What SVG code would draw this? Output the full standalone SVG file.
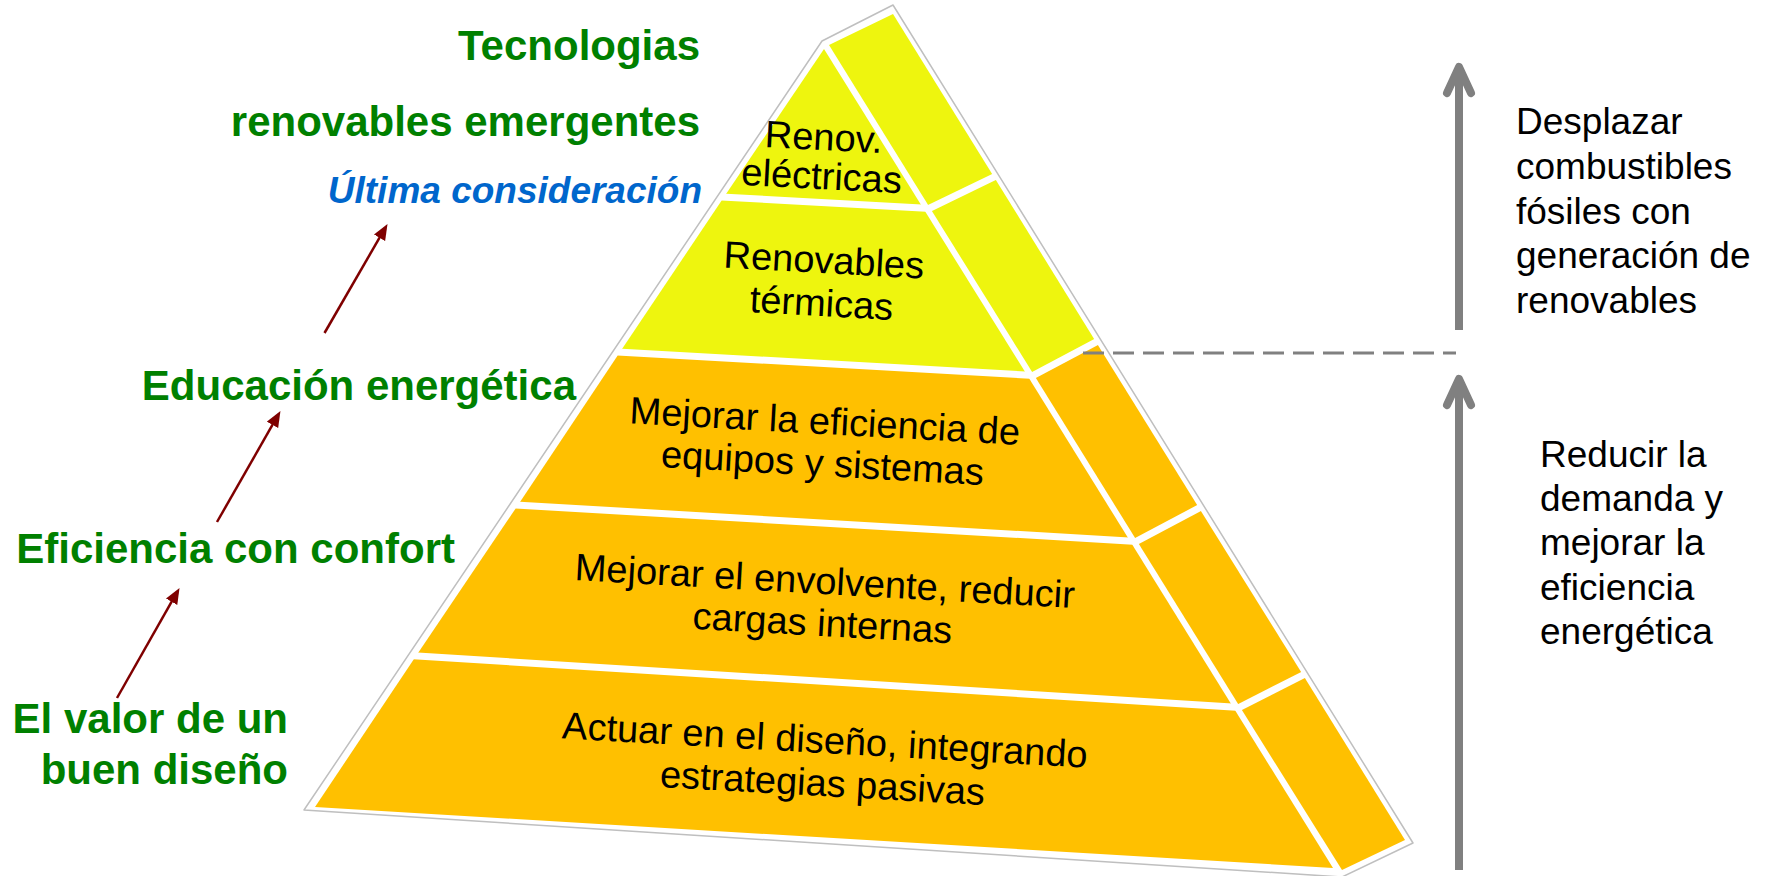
<svg xmlns="http://www.w3.org/2000/svg" width="1771" height="876" viewBox="0 0 1771 876">
  <defs>
    <style>
      .green { font-family: "Liberation Sans", Arial, sans-serif; font-weight: bold; font-size: 42px; fill: #008000; }
      .blue { font-family: "Liberation Sans", Arial, sans-serif; font-weight: bold; font-style: italic; font-size: 37px; fill: #0066CC; }
      .tier { font-family: "Liberation Sans", Arial, sans-serif; font-size: 38px; fill: #000; text-anchor: middle; }
      .note { font-family: "Liberation Sans", Arial, sans-serif; font-size: 37px; fill: #000; }
      .yellow { fill: #EEF50E; }
      .orange { fill: #FFC000; }
      .sep { stroke: #FFFFFF; stroke-width: 7; fill: none; }
      .red-arrow { stroke: #7F0000; stroke-width: 2.5; fill: none; marker-end: url(#redhead); }
      .gray-arrow { stroke: #808080; stroke-width: 8; fill: none; stroke-linejoin: round; }
    </style>
    <marker id="redhead" markerUnits="userSpaceOnUse" markerWidth="18" markerHeight="14" refX="3" refY="7" orient="auto">
      <path d="M0,0.5 L16,7 L0,13.5 z" fill="#7F0000"/>
    </marker>
  </defs>

  <rect x="0" y="0" width="1771" height="876" fill="#FFFFFF"/>

  <!-- pyramid outline -->
  <g id="pyramid-outline">
    <polygon points="822,41 893,5 1413,843 1342,877 304,810" fill="#FFFFFF" stroke="#BFBFBF" stroke-width="1.5" stroke-linejoin="round"/>
  </g>

  <g id="tier-renov-electricas">
    <polygon class="yellow" points="824,49 923,208 724,197"/>
    <polygon class="yellow" points="829,45 893,14 994,177 930,208"/>
    <text class="tier" transform="rotate(3 822 170)"><tspan x="822" y="150">Renov.</tspan><tspan x="822" y="189">eléctricas</tspan></text>
  </g>

  <g id="tier-renovables-termicas">
    <polygon class="yellow" points="724,197 923,208 1027,375 620,352"/>
    <polygon class="yellow" points="930,208 994,177 1096,342 1034,375"/>
    <text class="tier" transform="rotate(3.2 822 295)"><tspan x="822" y="273">Renovables</tspan><tspan x="822" y="316">térmicas</tspan></text>
  </g>

  <g id="tier-eficiencia-equipos">
    <polygon class="orange" points="620,352 1027,375 1130,541 518,505"/>
    <polygon class="orange" points="1034,375 1096,342 1199,508 1137,541"/>
    <text class="tier" transform="rotate(3.2 823 455)"><tspan x="823" y="434">Mejorar la eficiencia de</tspan><tspan x="823" y="476">equipos y sistemas</tspan></text>
  </g>

  <g id="tier-envolvente">
    <polygon class="orange" points="518,505 1130,541 1233,707 416,656"/>
    <polygon class="orange" points="1137,541 1199,508 1303,675 1240,707"/>
    <text class="tier" transform="rotate(3.2 823 615)"><tspan x="823" y="594">Mejorar el envolvente, reducir</tspan><tspan x="823" y="636">cargas internas</tspan></text>
  </g>

  <g id="tier-diseno">
    <polygon class="orange" points="416,656 1233,707 1333,868 315,807"/>
    <polygon class="orange" points="1240,707 1303,675 1405,840 1342,870"/>
    <text class="tier" transform="rotate(3.2 823 775)"><tspan x="823" y="753">Actuar en el diseño, integrando</tspan><tspan x="823" y="796">estrategias pasivas</tspan></text>
  </g>

  <!-- white separators between tiers -->
  <g id="separators">
    <line class="sep" x1="721.5" y1="196.9" x2="926" y2="208.2"/>
    <line class="sep" x1="926.9" y1="209.5" x2="995.8" y2="176.1"/>
    <line class="sep" x1="617.5" y1="351.9" x2="1030" y2="375.2"/>
    <line class="sep" x1="1030.9" y1="376.6" x2="1097.8" y2="341.1"/>
    <line class="sep" x1="515.5" y1="504.9" x2="1133" y2="541.2"/>
    <line class="sep" x1="1133.9" y1="542.6" x2="1200.8" y2="507.1"/>
    <line class="sep" x1="413.5" y1="655.8" x2="1236" y2="707.2"/>
    <line class="sep" x1="1236.9" y1="708.6" x2="1304.8" y2="674.1"/>
  </g>

  <!-- dashed divider -->
  <g id="divider">
    <line x1="1083" y1="353" x2="1456" y2="353" stroke="#808080" stroke-width="3" stroke-dasharray="21 9"/>
  </g>

  <!-- left labels -->
  <g id="label-tecnologias">
    <text class="green" x="700" y="60" text-anchor="end">Tecnologias</text>
    <text class="green" x="700" y="136" text-anchor="end">renovables emergentes</text>
    <text class="blue" x="702" y="203" text-anchor="end">Última consideración</text>
  </g>
  <g id="label-educacion">
    <text class="green" x="576" y="400" text-anchor="end">Educación energética</text>
  </g>
  <g id="label-eficiencia">
    <text class="green" x="455" y="563" text-anchor="end">Eficiencia con confort</text>
  </g>
  <g id="label-diseno">
    <text class="green" x="288" y="733" text-anchor="end">El valor de un</text>
    <text class="green" x="288" y="784" text-anchor="end">buen diseño</text>
  </g>

  <!-- right labels -->
  <g id="label-desplazar">
    <text class="note"><tspan x="1516" y="134">Desplazar</tspan><tspan x="1516" y="179">combustibles</tspan><tspan x="1516" y="224">fósiles con</tspan><tspan x="1516" y="268">generación de</tspan><tspan x="1516" y="313">renovables</tspan></text>
  </g>
  <g id="label-reducir">
    <text class="note"><tspan x="1540" y="467">Reducir la</tspan><tspan x="1540" y="511">demanda y</tspan><tspan x="1540" y="555">mejorar la</tspan><tspan x="1540" y="600">eficiencia</tspan><tspan x="1540" y="644">energética</tspan></text>
  </g>

  <!-- connectors -->
  <g id="connectors">
    <line class="red-arrow" x1="117" y1="698" x2="173.1" y2="599.2"/>
    <line class="red-arrow" x1="217" y1="522" x2="274" y2="422.2"/>
    <line class="red-arrow" x1="324.5" y1="333" x2="381" y2="235.2"/>
    <path class="gray-arrow" d="M1459,330 V70"/>
    <path class="gray-arrow" d="M1447,93 L1459,67 L1471,93" stroke-linecap="round"/>
    <path class="gray-arrow" d="M1459,870 V382"/>
    <path class="gray-arrow" d="M1447,405 L1459,379 L1471,405" stroke-linecap="round"/>
  </g>
</svg>
